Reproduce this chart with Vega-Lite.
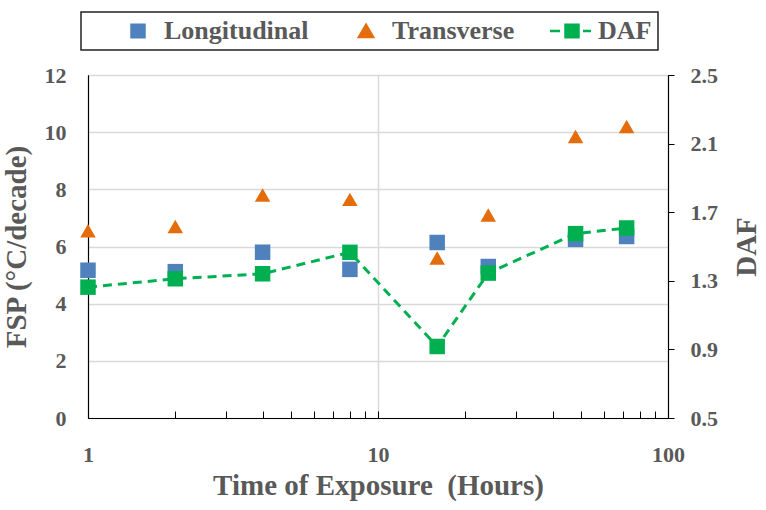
{
  "$schema": "https://vega.github.io/schema/vega-lite/v6.json",
  "width": 580,
  "height": 343,
  "autosize": {"type": "none"},
  "padding": {"left": 88, "top": 75, "right": 98, "bottom": 92},
  "background": "white",
  "config": {
    "font": "Liberation Serif",
    "view": {"stroke": "#000", "strokeWidth": 1},
    "axis": {
      "labelFont": "Liberation Serif", "labelFontWeight": "bold", "labelFontSize": 22, "labelColor": "#595959",
      "titleFont": "Liberation Serif", "titleFontWeight": "bold", "titleFontSize": 29, "titleColor": "#595959",
      "domainColor": "#000", "domainWidth": 1.2, "tickColor": "#000", "gridColor": "#d9d9d9", "gridWidth": 1.5,
      "labelFlush": false, "labelOverlap": false
    },
    "legend": {
      "orient": "none", "legendX": -7, "legendY": -63, "direction": "horizontal",
      "strokeColor": "#222", "fillColor": "white", "padding": 6, "strokeWidth": 1.5,
      "symbolSize": 400, "labelOffset": 51, "columnPadding": 6, "symbolOpacity": 1, "symbolStrokeWidth": 2.5,
      "labelFont": "Liberation Serif", "labelFontSize": 26, "labelFontWeight": "bold", "labelColor": "#595959", "labelLimit": 0
    }
  },
  "data": {"values": [
    {"hours": 1, "series": "Longitudinal", "value": 5.17},
    {"hours": 2, "series": "Longitudinal", "value": 5.12},
    {"hours": 4, "series": "Longitudinal", "value": 5.8},
    {"hours": 8, "series": "Longitudinal", "value": 5.2},
    {"hours": 16, "series": "Longitudinal", "value": 6.14},
    {"hours": 24, "series": "Longitudinal", "value": 5.3},
    {"hours": 48, "series": "Longitudinal", "value": 6.25},
    {"hours": 72, "series": "Longitudinal", "value": 6.35},
    {"hours": 1, "series": "Transverse", "value": 6.55},
    {"hours": 2, "series": "Transverse", "value": 6.7},
    {"hours": 4, "series": "Transverse", "value": 7.8},
    {"hours": 8, "series": "Transverse", "value": 7.65},
    {"hours": 16, "series": "Transverse", "value": 5.6},
    {"hours": 24, "series": "Transverse", "value": 7.1},
    {"hours": 48, "series": "Transverse", "value": 9.85},
    {"hours": 72, "series": "Transverse", "value": 10.2},
    {"hours": 1, "series": "DAF", "value": 1.263},
    {"hours": 2, "series": "DAF", "value": 1.312},
    {"hours": 4, "series": "DAF", "value": 1.341},
    {"hours": 8, "series": "DAF", "value": 1.466},
    {"hours": 16, "series": "DAF", "value": 0.917},
    {"hours": 24, "series": "DAF", "value": 1.345},
    {"hours": 48, "series": "DAF", "value": 1.575},
    {"hours": 72, "series": "DAF", "value": 1.608}
  ]},
  "encoding": {
    "x": {
      "field": "hours", "type": "quantitative",
      "scale": {"type": "log", "domain": [1, 100], "nice": false},
      "axis": {
        "values": [1, 2, 3, 4, 5, 6, 7, 8, 9, 10, 20, 30, 40, 50, 60, 70, 80, 90, 100],
        "format": "d",
        "labelExpr": "datum.value == 1 || datum.value == 10 || datum.value == 100 ? datum.label : ''",
        "tickSize": -7,
        "labelPadding": 33,
        "grid": true,
        "gridColor": {"condition": {"test": "datum.value == 10", "value": "#d9d9d9"}, "value": "transparent"},
        "title": "Time of Exposure \u00a0(Hours)",
        "titlePadding": 6
      }
    }
  },
  "layer": [
    {
      "transform": [{"filter": "datum.series !== 'DAF'"}],
      "mark": {"type": "point", "filled": true, "opacity": 1, "size": 240},
      "encoding": {
        "y": {
          "field": "value", "type": "quantitative",
          "scale": {"domain": [0, 12], "nice": false, "zero": false},
          "axis": {
            "orient": "left", "values": [0, 2, 4, 6, 8, 10, 12], "ticks": false, "labelPadding": 22,
            "grid": true, "title": "FSP (°C/decade)", "titlePadding": 13
          }
        },
        "color": {
          "field": "series", "type": "nominal",
          "scale": {"domain": ["Longitudinal", "Transverse"], "range": ["#4F81BD", "#E46C0A"]},
          "legend": null
        },
        "shape": {
          "field": "series", "type": "nominal",
          "scale": {"domain": ["Longitudinal", "Transverse"], "range": ["square", "triangle-up"]},
          "legend": null
        }
      }
    },
    {
      "transform": [{"filter": "datum.series === 'DAF'"}],
      "encoding": {
        "y": {
          "field": "value", "type": "quantitative",
          "scale": {"domain": [0.5, 2.5], "nice": false, "zero": false},
          "axis": {
            "orient": "right", "values": [0.5, 0.9, 1.3, 1.7, 2.1, 2.5], "format": ".1f",
            "ticks": true, "tickSize": 6, "labelPadding": 16, "grid": false,
            "title": "DAF", "titleAngle": 270, "titleBaseline": "top", "titlePadding": 15
          }
        }
      },
      "layer": [
        {
          "mark": {"type": "line", "color": "#00B050", "strokeDash": [9, 6], "strokeWidth": 3}
        },
        {
          "mark": {"type": "point", "filled": true, "opacity": 1, "size": 240, "shape": "square", "color": "#00B050"}
        }
      ]
    },
    {
      "mark": {"type": "point", "filled": true, "opacity": 0, "size": 400},
      "encoding": {
        "color": {
          "field": "series", "type": "nominal",
          "scale": {"domain": ["Longitudinal", "Transverse", "DAF"], "range": ["#4F81BD", "#E46C0A", "#00B050"]},
          "legend": {"title": null}
        },
        "stroke": {
          "field": "series", "type": "nominal",
          "scale": {"domain": ["Longitudinal", "Transverse", "DAF"], "range": ["#4F81BD", "#E46C0A", "#00B050"]},
          "legend": {"title": null}
        },
        "shape": {
          "field": "series", "type": "nominal",
          "scale": {"domain": ["Longitudinal", "Transverse", "DAF"], "range": ["M3.15,-0.63H4.45V0.63H3.15Z", "M3.8,-0.6L4.5,0.6H3.1Z", "M1.6,0H2.6M3.15,-0.63H4.45V0.63H3.15ZM4.9,0H5.7"]},
          "legend": {"title": null}
        }
      }
    }
  ],
  "resolve": {"scale": {"y": "independent", "shape": "independent", "color": "independent", "stroke": "independent"}}
}
